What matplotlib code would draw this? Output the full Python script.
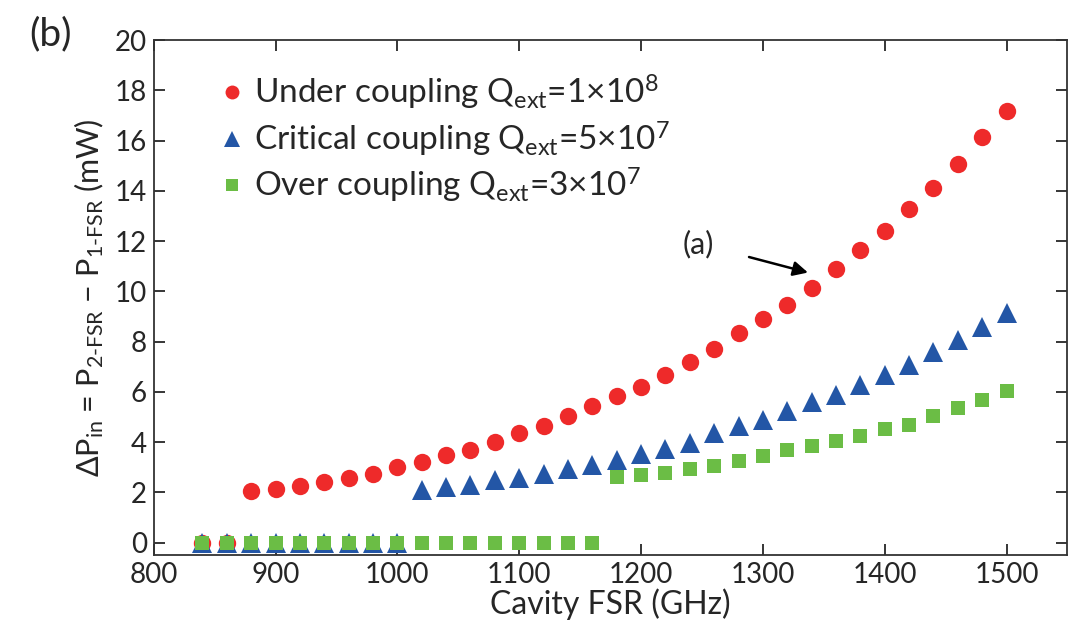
import matplotlib
matplotlib.use("Agg")
import matplotlib.pyplot as plt

# Cavity FSR values (GHz) for each series
fsr_under = [840, 860, 880, 900, 920, 940, 960, 980, 1000, 1020, 1040, 1060, 1080, 1100,
             1120, 1140, 1160, 1180, 1200, 1220, 1240, 1260, 1280, 1300, 1320, 1340,
             1360, 1380, 1400, 1420, 1440, 1460, 1480, 1500]
dp_under = [0, 0, 2.04, 2.13, 2.27, 2.41, 2.57, 2.74, 3.01, 3.21, 3.50, 3.70, 3.99, 4.36,
            4.63, 5.05, 5.45, 5.82, 6.19, 6.68, 7.20, 7.70, 8.36, 8.89, 9.46, 10.13,
            10.89, 11.65, 12.41, 13.27, 14.11, 15.07, 16.14, 17.2]

fsr_crit = [840, 860, 880, 900, 920, 940, 960, 980, 1000, 1020, 1040, 1060, 1080, 1100,
            1120, 1140, 1160, 1180, 1200, 1220, 1240, 1260, 1280, 1300, 1320, 1340,
            1360, 1380, 1400, 1420, 1440, 1460, 1480, 1500]
dp_crit = [0, 0, 0, 0, 0, 0, 0, 0, 0, 2.1, 2.2, 2.31, 2.48, 2.57,
           2.74, 2.93, 3.1, 3.3, 3.53, 3.72, 3.98, 4.36, 4.65, 4.89, 5.22, 5.58,
           5.88, 6.28, 6.68, 7.08, 7.57, 8.07, 8.6, 9.13]

fsr_over = [840, 860, 880, 900, 920, 940, 960, 980, 1000, 1020, 1040, 1060, 1080, 1100,
            1120, 1140, 1160, 1180, 1200, 1220, 1240, 1260, 1280, 1300, 1320, 1340,
            1360, 1380, 1400, 1420, 1440, 1460, 1480, 1500]
dp_over = [0, 0, 0, 0, 0, 0, 0, 0, 0, 0, 0, 0, 0, 0,
           0, 0, 0, 2.6, 2.7, 2.77, 2.93, 3.03, 3.23, 3.43, 3.67, 3.83,
           4.03, 4.25, 4.52, 4.69, 5.02, 5.36, 5.69, 6.02]

labels = [r"Under coupling Q$_{\mathrm{ext}}$=1×10$^{8}$",
          r"Critical coupling Q$_{\mathrm{ext}}$=5×10$^{7}$",
          r"Over coupling Q$_{\mathrm{ext}}$=3×10$^{7}$"]

plt.rcParams['font.family'] = ['Lato', 'DejaVu Sans']
plt.rcParams['mathtext.fontset'] = 'custom'
plt.rcParams['mathtext.rm'] = 'Lato'
plt.rcParams['mathtext.it'] = 'Lato:italic'
plt.rcParams['mathtext.bf'] = 'Lato:bold'

text_col = '#262626'

fig = plt.figure(figsize=(10.75, 6.28), dpi=100)
ax = fig.add_axes([0.143, 0.116, 0.850, 0.820])

ax.plot(fsr_under, dp_under, 'o', color='#ee2a2a', markersize=12.5, markeredgewidth=0,
        label=labels[0])
ax.plot(fsr_crit, dp_crit, '^', color='#2356a6', markersize=14, markeredgewidth=0,
        label=labels[1])
ax.plot(fsr_over, dp_over, 's', color='#6bbd45', markersize=10.5, markeredgewidth=0,
        label=labels[2])

ax.set_xlim(800, 1550)
ax.set_ylim(-0.5, 20)
ax.set_xticks(range(800, 1501, 100))
ax.set_yticks(range(0, 21, 2))

ax.tick_params(direction='in', length=8, width=1.3, top=True, right=True,
               labelsize=20, colors=text_col, pad=5)
for s in ax.spines.values():
    s.set_linewidth(1.3)
    s.set_color('#333333')

ax.set_xlabel('Cavity FSR (GHz)', fontsize=23, color=text_col, labelpad=0)
ax.set_ylabel(r'$\Delta$P$_{\mathrm{in}}$ = P$_{\text{2-FSR}}$ $-$ P$_{\text{1-FSR}}$ (mW)',
              fontsize=22, color=text_col, labelpad=6)

leg = ax.legend(loc='upper left', bbox_to_anchor=(0.055, 0.962), frameon=False,
                fontsize=24, handletextpad=0.2, labelspacing=0.22, markerscale=0.8,
                handlelength=0.9, borderaxespad=0)
for t in leg.get_texts():
    t.set_color(text_col)

ax.annotate('(a)', xy=(1337, 10.75), xytext=(1247, 11.9), fontsize=22, color=text_col,
            ha='center', va='center',
            arrowprops=dict(arrowstyle='-|>', color='black', lw=1.8, mutation_scale=22,
                            shrinkA=24, shrinkB=0))

fig.text(0.047, 0.945, '(b)', fontsize=28, color=text_col, ha='center', va='center')

fig.savefig('out.png', dpi=100)
